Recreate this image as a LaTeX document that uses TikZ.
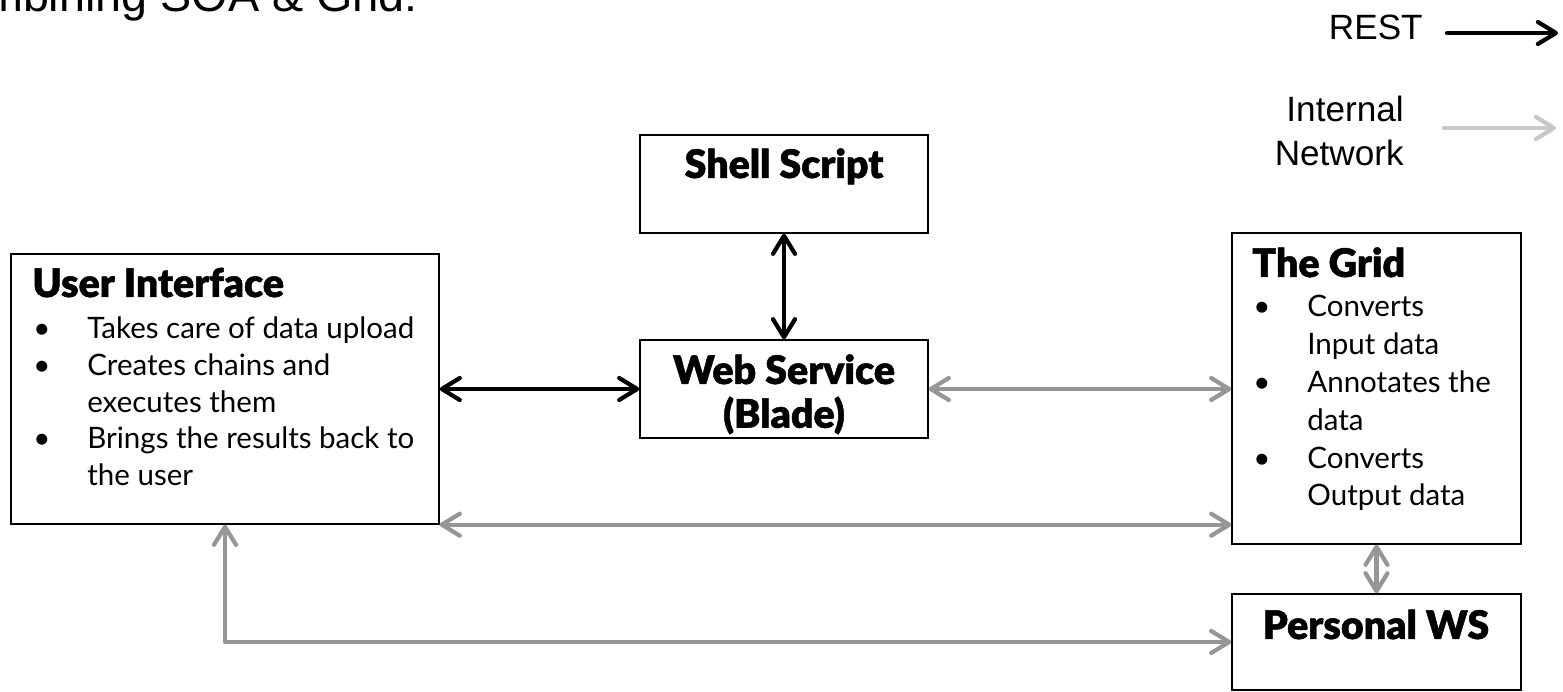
\documentclass[tikz,border=0pt]{standalone}
\usepackage{fontspec}
\setmainfont{Lato}
\newfontfamily\heavyfont{Lato Black}[FakeBold=1.2]
\newfontfamily\legendfont{Liberation Sans}
\usetikzlibrary{arrows.meta,fit}

\definecolor{netgray}{RGB}{150,150,150}
\definecolor{keygray}{RGB}{200,200,200}

\tikzset{
  box/.style={draw, line width=0.8pt, inner sep=0pt},
  boxtitle/.style={inner sep=0pt, font=\heavyfont\fontsize{22.4}{23.8}\selectfont},
  boxlist/.style={inner sep=0pt, font=\fontsize{16.8}{20.8}\selectfont},
  restline/.style={line width=2.4pt, line cap=round, line join=round, black},
  netline/.style={line width=2.4pt, line cap=round, line join=round, netgray},
}

\begin{document}
\begin{tikzpicture}[x=0.02cm, y=-0.02cm, >={Straight Barb[length=3.6mm,width=4.4mm,round]}]
  \useasboundingbox (0,0) rectangle (1563,692);
  \clip (0,0) rectangle (1563,692);
  \fill[white] (0,0) rectangle (1563,692);

  % heading (runs off the top edge)
  \node[anchor=base west, inner sep=0pt, font=\legendfont\fontsize{26.6}{30}\selectfont] (heading) at (-76,12) {Combining SOA \& Grid:};

  % legend
  \node[anchor=base east, inner sep=0pt, font=\legendfont\fontsize{20}{24}\selectfont] (rest) at (1423,40) {REST};
  \coordinate (rest-from) at (1447,33);
  \coordinate (rest-to) at (1558,33);
  \draw[restline, ->] (rest-from) -- (rest-to);
  \node[anchor=base east, inner sep=0pt, font=\legendfont\fontsize{20}{24.5}\selectfont] (internal) at (1404,122)
    {\begin{tabular}[t]{@{}r@{}}Internal\\Network\end{tabular}};
  \coordinate (net-from) at (1444,128);
  \coordinate (net-to) at (1556,128);
  \draw[restline, keygray, ->] (net-from) -- (net-to);

  % boxes
  \node[box, fit={(11,254) (439,524)}] (ui) {};
  \node[box, fit={(640,135) (928,233)}] (shell) {};
  \node[box, fit={(640,340) (928,438)}] (ws) {};
  \node[box, fit={(1232,233) (1521,544)}] (grid) {};
  \node[box, fit={(1232,594) (1521,690)}] (pws) {};

  % box texts
  \node[boxtitle, anchor=base west] (ui-title) at (32,297) {User Interface};
  \node[boxlist, anchor=base west] (ui-list) at (33,339) {\begin{tabular}[t]{@{}p{1.08cm}@{}l@{}}
    \textbullet & Takes care of data upload\\
    \textbullet & Creates chains and\\
                & executes them\\
    \textbullet & Brings the results back to\\
                & the user
  \end{tabular}};
  \node[boxtitle, anchor=base] (shell-title) at (784,178) {Shell Script};
  \node[boxtitle, anchor=base] (ws-title) at (784,384)
    {\begin{tabular}[t]{@{}c@{}}Web Service\\(Blade)\end{tabular}};
  \node[boxtitle, anchor=base west] (grid-title) at (1252,277) {The Grid};
  \node[boxlist, font=\fontsize{16.8}{21.5}\selectfont, anchor=base west] (grid-list) at (1253,317) {\begin{tabular}[t]{@{}p{1.08cm}@{}l@{}}
    \textbullet & Converts\\
                & Input data\\
    \textbullet & Annotates the\\
                & data\\
    \textbullet & Converts\\
                & Output data
  \end{tabular}};
  \node[boxtitle, anchor=base] (pws-title) at (1376,639) {Personal WS};

  % REST calls
  \draw[restline, <->] (ui.east) -- (ws.west);
  \draw[restline, <->] (shell.south) -- (ws.north);
  % internal network
  \draw[netline, <->] (ws.east) -- (ws.east -| grid.west);
  \draw[netline, <->] (ui.south east) -- (ui.south east -| grid.west);
  \draw[netline, <->] (grid.south) -- (pws.north);
  \draw[netline, <->] (ui.south) |- (pws.west);
\end{tikzpicture}
\end{document}
